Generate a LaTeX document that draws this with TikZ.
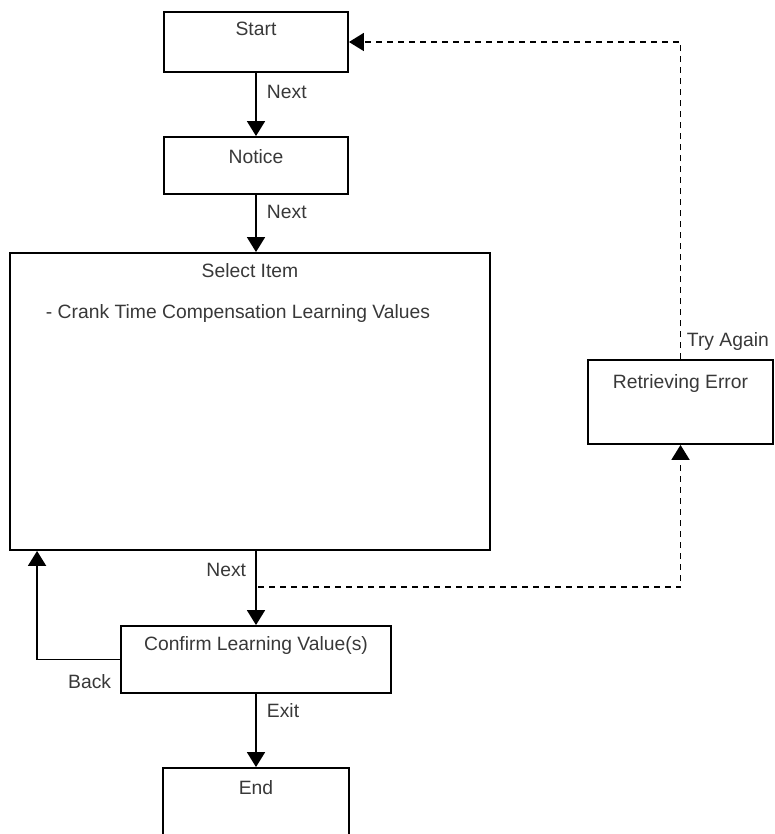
\documentclass[tikz,border=0pt]{standalone}
\usepackage{fontspec}
\setmainfont{Liberation Sans}
\usetikzlibrary{arrows.meta}

\begin{document}
\begin{tikzpicture}[x=1pt, y=-1pt, >={Triangle[length=15pt, width=18pt]}, line width=1.9pt,
    every node/.style = {font=\fontsize{19.3}{23}\selectfont, text=black!78},
    box/.style 2 args = {draw, inner sep=0pt, label={[anchor=base, yshift=-#2]north:#1}},
    lbl/.style = {inner sep=2pt},
    retry/.style = {dash pattern=on 6pt off 5pt}]
    \useasboundingbox (0,0) rectangle (774,834);
    \node[box={Start}{24pt}, minimum width=184pt, minimum height=60pt] (start) at (256,42) {};
    \node[box={Notice}{27pt}, minimum width=184pt, minimum height=57pt] (notice) at (256,165.5) {};
    \node[box={Select Item}{25pt}, minimum width=480pt, minimum height=297pt] (select) at (250,401.5) {};
    \node[lbl, anchor=base west] (crank) at (43,318) {- Crank Time Compensation Learning Values};
    \node[box={Retrieving Error}{29pt}, minimum width=185pt, minimum height=84pt] (err) at (680.5,402) {};
    \node[box={Confirm Learning Value(s)}{25pt}, minimum width=270pt, minimum height=67pt] (confirm) at (256,659.5) {};
    \node[box={End}{27pt}, minimum width=186pt, minimum height=72pt] (stop) at (256,804) {};
    \coordinate (split) at (258,587);
    \draw[->] (start) -- (notice) node[lbl, pos=0.3, right=8pt] {Next};
    \draw[->] (notice) -- (notice |- select.north) node[lbl, pos=0.3, right=8pt] {Next};
    \draw[->] (select.south -| confirm.north) -- (confirm.north) node[lbl, pos=0.26, left=7pt] {Next};
    \draw[->] (confirm) -- (stop) node[lbl, pos=0.23, right=8pt] {Exit};
    \draw[->] (confirm.west) -| ([xshift=28pt]select.south west)
        node[lbl, pos=0, anchor=north east, xshift=-6pt, yshift=-12pt] {Back};
    \draw[retry, ->] (split) -| (err.south);
    \draw[retry, ->] (err.north) |- (start.east)
        node[lbl, pos=0, anchor=south west, xshift=3.5pt, yshift=6pt] {Try Again};
  \end{tikzpicture}
\end{document}
